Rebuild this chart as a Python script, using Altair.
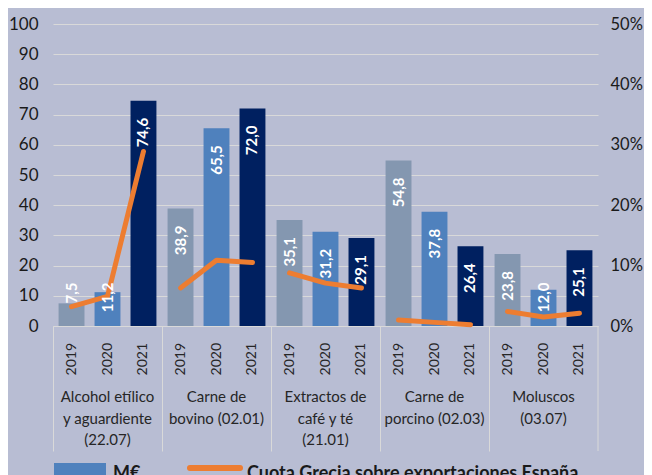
import altair as alt
import pandas as pd

categories = [
    "Alcohol etílico\ny aguardiente\n(22.07)",
    "Carne de\nbovino  (02.01)",
    "Extractos de\ncafé y té\n(21.01)",
    "Carne de\nporcino (02.03)",
    "Moluscos\n(03.07)",
]
years = ["2019", "2020", "2021"]
value_2019 = [7.5, 38.9, 35.1, 54.8, 23.8]
value_2020 = [11.2, 65.5, 31.2, 37.8, 12.0]
value_2021 = [74.6, 72.0, 29.1, 26.4, 25.1]
share_2019 = [0.032, 0.063, 0.088, 0.010, 0.024]
share_2020 = [0.049, 0.109, 0.071, 0.006, 0.015]
share_2021 = [0.289, 0.105, 0.063, 0.002, 0.021]
bar_colors = ["#8497b0", "#4f81bd", "#002060"]
legend_items = ["M€", "Cuota Grecia sobre exportaciones España"]

rows = []
for i, c in enumerate(categories):
    for yr, vals, shs in zip(years, [value_2019, value_2020, value_2021],
                             [share_2019, share_2020, share_2021]):
        rows.append({"cat": c, "year": yr, "value": vals[i], "share": shs[i],
                     "label": f"{vals[i]:.1f}".replace(".", ",")})
df = pd.DataFrame(rows)

W, H = 545, 302
FONT = "Lato"
GRID = "#d9d9d9"

x = alt.X("cat:N", sort=categories, title=None,
          scale=alt.Scale(paddingInner=0, paddingOuter=0),
          axis=alt.Axis(title=None, labels=False, bandPosition=0, tickSize=125,
                        tickColor=GRID, tickWidth=1, domainColor=GRID, grid=False))
xo = alt.XOffset("year:N", sort=years,
                 scale=alt.Scale(paddingInner=0.28, paddingOuter=0.155))

base = alt.Chart(df)

bars = base.mark_bar().encode(
    x=x, xOffset=xo,
    y=alt.Y("value:Q", scale=alt.Scale(domain=[0, 100]),
            axis=alt.Axis(title=None, values=list(range(0, 101, 10)), grid=True,
                          gridColor=GRID, gridWidth=1.2, ticks=False, domain=False,
                          labelFontSize=17, labelPadding=15, labelColor="#1a1a1a",
                          labelFont=FONT)),
    color=alt.Color("year:N", sort=years,
                    scale=alt.Scale(domain=years, range=bar_colors), legend=None),
)

line = base.mark_line(color="#ed7d31", strokeWidth=5, strokeCap="round", strokeJoin="round").encode(
    x=x, xOffset=xo,
    y=alt.Y("share:Q", scale=alt.Scale(domain=[0, 0.5]),
            axis=alt.Axis(orient="right", title=None, values=[0, 0.1, 0.2, 0.3, 0.4, 0.5],
                          format=".0%", grid=False, ticks=False, domain=False,
                          labelFontSize=16.5, labelPadding=12, labelColor="#1a1a1a",
                          labelFont=FONT)),
    detail="cat:N",
    order=alt.Order("year:N"),
)

labels = base.transform_calculate(pos="max(datum.value, 20)").mark_text(
    angle=270, align="right", baseline="middle", dx=-17, color="white",
    fontWeight="bold", fontSize=15, font=FONT
).encode(
    x=x, xOffset=xo,
    y=alt.Y("pos:Q", scale=alt.Scale(domain=[0, 100]), axis=None),
    text="label:N",
)

year_text = base.mark_text(angle=270, align="right", baseline="middle",
                           fontSize=14, color="#262626", font=FONT).encode(
    x=x, xOffset=xo, y=alt.value(H + 17), text="year:N")

cat_text = base.transform_filter("datum.year == '2020'").mark_text(
    lineBreak="\n", baseline="top", align="center", fontSize=15, lineHeight=21.5,
    color="#262626", font=FONT
).encode(x=x, y=alt.value(H + 64), text="cat:N")

sep = alt.Chart(pd.DataFrame({"a": [0]})).mark_rule(color=GRID, strokeWidth=1).encode(
    x=alt.value(W), y=alt.value(H), y2=alt.value(H + 125))

leg_df = pd.DataFrame({"item": legend_items})
leg_rect = alt.Chart(leg_df).transform_filter("datum.item == 'M€'").mark_rect(
    color="#4f81bd").encode(x=alt.value(1), x2=alt.value(53),
                            y=alt.value(H + 137), y2=alt.value(H + 152))
leg_line = alt.Chart(leg_df).transform_filter("datum.item != 'M€'").mark_rule(
    color="#ed7d31", strokeWidth=6, strokeCap="round").encode(
    x=alt.value(137), x2=alt.value(187), y=alt.value(H + 142))
leg_t1 = alt.Chart(leg_df).transform_filter("datum.item == 'M€'").mark_text(
    align="left", baseline="alphabetic", fontSize=18, fontWeight="bold",
    color="#1a1a1a", font=FONT).encode(x=alt.value(60), y=alt.value(H + 153), text="item:N")
leg_t2 = alt.Chart(leg_df).transform_filter("datum.item != 'M€'").mark_text(
    align="left", baseline="alphabetic", fontSize=18, fontWeight="bold",
    color="#1a1a1a", font=FONT).encode(x=alt.value(194), y=alt.value(H + 153), text="item:N")

chart = alt.layer(
    bars, line, labels, year_text, cat_text, sep, leg_rect, leg_line, leg_t1, leg_t2
).resolve_scale(y="independent").properties(
    width=W, height=H,
    autosize=alt.AutoSizeParams(type="none"),
    padding={"left": 45, "top": 16, "right": 46, "bottom": 149},
).configure(background="#b8bdd3", font=FONT).configure_view(stroke=None)

chart.save("out.html", embed_options={"renderer": "svg", "actions": False})
